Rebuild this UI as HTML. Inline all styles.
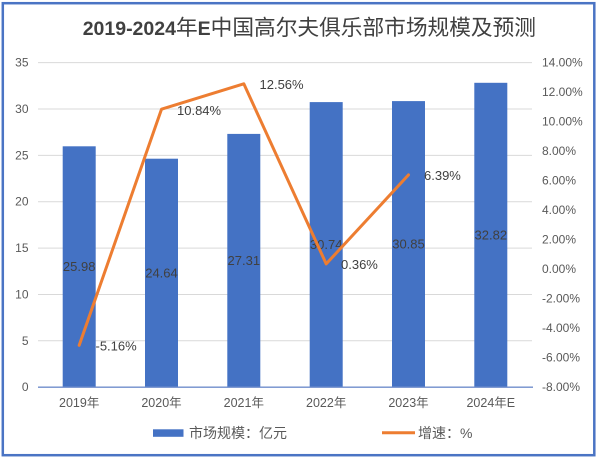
<!DOCTYPE html>
<html>
<head>
<meta charset="utf-8">
<style>
  html, body { margin:0; padding:0; background:#ffffff; }
  svg { display:block; }
  text { font-family: "Liberation Sans", "Noto Sans CJK SC", sans-serif; }
</style>
</head>
<body>
<svg width="600" height="462" viewBox="0 0 600 462" xmlns="http://www.w3.org/2000/svg">
  <rect x="0" y="0" width="600" height="462" fill="#ffffff"/>
  <!-- outer border -->
  <rect x="2.8" y="3.2" width="591.5" height="452" fill="#ffffff" stroke="#4A74C4" stroke-width="2.5"/>

  <!-- title -->
  <text x="82.7" y="35" fill="#404040"><tspan font-weight="bold" font-size="19.5">2019-2024</tspan><tspan font-size="21.7">年</tspan><tspan font-weight="bold" font-size="19.5">E</tspan><tspan font-size="21.7">中国高尔夫俱乐部市场规模及预测</tspan></text>

  <!-- gridlines -->
  <g stroke="#D9D9D9" stroke-width="1">
    <line x1="38" y1="340.8" x2="532" y2="340.8"/>
    <line x1="38" y1="294.5" x2="532" y2="294.5"/>
    <line x1="38" y1="248.1" x2="532" y2="248.1"/>
    <line x1="38" y1="201.7" x2="532" y2="201.7"/>
    <line x1="38" y1="155.4" x2="532" y2="155.4"/>
    <line x1="38" y1="109.0" x2="532" y2="109.0"/>
    <line x1="38" y1="62.6" x2="532" y2="62.6"/>
  </g>

  <!-- bars -->
  <g fill="#4472C4">
    <rect x="62.7" y="146.3" width="33" height="240.9"/>
    <rect x="145.0" y="158.7" width="33" height="228.5"/>
    <rect x="227.3" y="133.9" width="33" height="253.3"/>
    <rect x="309.7" y="102.1" width="33" height="285.1"/>
    <rect x="392.0" y="101.1" width="33" height="286.1"/>
    <rect x="474.3" y="82.8" width="33" height="304.4"/>
  </g>

  <!-- x axis line -->
  <line x1="38" y1="387.2" x2="533" y2="387.2" stroke="#6F8DCB" stroke-width="1.3"/>

  <!-- left axis labels -->
  <g font-size="12" fill="#595959" text-anchor="end" dominant-baseline="central">
    <text x="28.5" y="387.2">0</text>
    <text x="28.5" y="340.8">5</text>
    <text x="28.5" y="294.5">10</text>
    <text x="28.5" y="248.1">15</text>
    <text x="28.5" y="201.7">20</text>
    <text x="28.5" y="155.4">25</text>
    <text x="28.5" y="109.0">30</text>
    <text x="28.5" y="62.6">35</text>
  </g>

  <!-- right axis labels -->
  <g font-size="12" fill="#595959" dominant-baseline="central">
    <text x="542" y="62.6">14.00%</text>
    <text x="542" y="92.1">12.00%</text>
    <text x="542" y="121.6">10.00%</text>
    <text x="542" y="151.1">8.00%</text>
    <text x="542" y="180.6">6.00%</text>
    <text x="542" y="210.2">4.00%</text>
    <text x="542" y="239.7">2.00%</text>
    <text x="542" y="269.2">0.00%</text>
    <text x="542" y="298.7">-2.00%</text>
    <text x="542" y="328.2">-4.00%</text>
    <text x="542" y="357.7">-6.00%</text>
    <text x="542" y="387.2">-8.00%</text>
  </g>

  <!-- x axis labels -->
  <g font-size="12.5" fill="#595959" text-anchor="middle" dominant-baseline="central">
    <text x="79.2" y="403">2019年</text>
    <text x="161.5" y="403">2020年</text>
    <text x="243.8" y="403">2021年</text>
    <text x="326.2" y="403">2022年</text>
    <text x="408.5" y="403">2023年</text>
    <text x="490.8" y="403">2024年E</text>
  </g>

  <!-- bar labels -->
  <g font-size="13" fill="#404040" text-anchor="middle" dominant-baseline="central">
    <text x="79.2" y="266.7">25.98</text>
    <text x="161.5" y="272.9">24.64</text>
    <text x="243.8" y="260.5">27.31</text>
    <text x="326.2" y="244.6">30.74</text>
    <text x="408.5" y="244.1">30.85</text>
    <text x="490.8" y="235.0">32.82</text>
  </g>

  <!-- growth line -->
  <polyline points="79.2,345.3 161.5,109.2 243.8,83.8 326.2,263.9 408.5,174.9" fill="none" stroke="#ED7D31" stroke-width="3" stroke-linejoin="round" stroke-linecap="round"/>

  <!-- line labels -->
  <g font-size="13" fill="#404040" dominant-baseline="central">
    <text x="95.5" y="346">-5.16%</text>
    <text x="177" y="110.7">10.84%</text>
    <text x="259.5" y="84.5">12.56%</text>
    <text x="341" y="264.5">0.36%</text>
    <text x="424" y="175.5">6.39%</text>
  </g>

  <!-- legend -->
  <rect x="153" y="429.3" width="30.5" height="7.5" fill="#4472C4"/>
  <text x="189" y="433" font-size="14" fill="#595959" dominant-baseline="central">市场规模：亿元</text>
  <line x1="382" y1="432.8" x2="415" y2="432.8" stroke="#ED7D31" stroke-width="3"/>
  <text x="418" y="433" font-size="14" fill="#595959" dominant-baseline="central">增速：%</text>
</svg>
</body>
</html>
